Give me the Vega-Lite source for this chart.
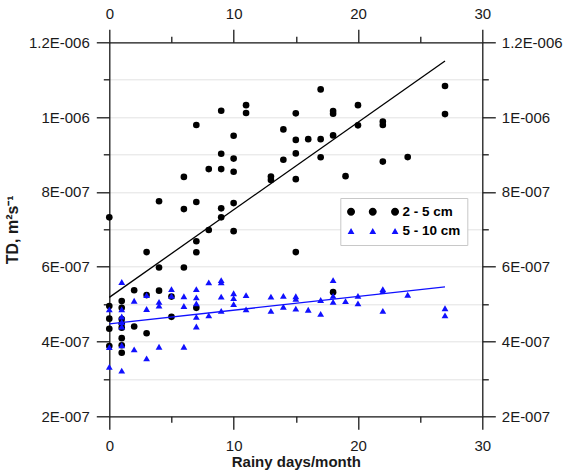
{
  "$schema": "https://vega.github.io/schema/vega-lite/v6.json",
  "width": 373,
  "height": 374,
  "autosize": {"type": "none"},
  "padding": {"left": 109.3, "top": 42.3, "right": 84, "bottom": 55},
  "background": "white",
  "config": {
    "font": "Liberation Sans",
    "view": {"stroke": null},
    "axis": {
      "domainColor": "#1a1a1a", "domainWidth": 1.3,
      "tickColor": "#1a1a1a", "tickWidth": 1.3,
      "labelFont": "Liberation Sans", "labelFontSize": 15, "labelColor": "#1a1a1a",
      "titleFont": "Liberation Sans", "titleFontSize": 15, "titleFontWeight": "bold", "titleColor": "#1a1a1a",
      "grid": false, "labelFlush": false, "labelOverlap": false
    }
  },
  "datasets": {
    "pts": [
      {"x":0,"y":7.32e-7,"series":"2 - 5 cm"},{"x":4,"y":7.75e-7,"series":"2 - 5 cm"},{"x":6,"y":8.40e-7,"series":"2 - 5 cm"},{"x":7,"y":9.79e-7,"series":"2 - 5 cm"},
      {"x":9,"y":1.017e-6,"series":"2 - 5 cm"},{"x":11,"y":1.032e-6,"series":"2 - 5 cm"},{"x":11,"y":1.011e-6,"series":"2 - 5 cm"},{"x":10,"y":9.50e-7,"series":"2 - 5 cm"},
      {"x":9,"y":9.02e-7,"series":"2 - 5 cm"},{"x":10,"y":8.89e-7,"series":"2 - 5 cm"},{"x":8,"y":8.61e-7,"series":"2 - 5 cm"},{"x":9,"y":8.61e-7,"series":"2 - 5 cm"},
      {"x":10,"y":8.54e-7,"series":"2 - 5 cm"},{"x":7,"y":7.73e-7,"series":"2 - 5 cm"},{"x":6,"y":7.54e-7,"series":"2 - 5 cm"},{"x":9,"y":7.56e-7,"series":"2 - 5 cm"},
      {"x":10,"y":7.70e-7,"series":"2 - 5 cm"},{"x":9,"y":7.32e-7,"series":"2 - 5 cm"},{"x":8,"y":6.98e-7,"series":"2 - 5 cm"},{"x":10,"y":6.95e-7,"series":"2 - 5 cm"},
      {"x":13,"y":8.41e-7,"series":"2 - 5 cm"},{"x":13,"y":8.32e-7,"series":"2 - 5 cm"},{"x":14,"y":9.67e-7,"series":"2 - 5 cm"},{"x":14,"y":8.86e-7,"series":"2 - 5 cm"},
      {"x":15,"y":1.010e-6,"series":"2 - 5 cm"},{"x":15,"y":9.39e-7,"series":"2 - 5 cm"},{"x":15,"y":9.03e-7,"series":"2 - 5 cm"},{"x":15,"y":8.34e-7,"series":"2 - 5 cm"},
      {"x":16,"y":9.41e-7,"series":"2 - 5 cm"},{"x":17,"y":1.074e-6,"series":"2 - 5 cm"},{"x":17,"y":9.41e-7,"series":"2 - 5 cm"},{"x":17,"y":8.925e-7,"series":"2 - 5 cm"},
      {"x":18,"y":1.016e-6,"series":"2 - 5 cm"},{"x":18,"y":1.009e-6,"series":"2 - 5 cm"},{"x":18,"y":9.51e-7,"series":"2 - 5 cm"},{"x":19,"y":8.42e-7,"series":"2 - 5 cm"},
      {"x":20,"y":1.032e-6,"series":"2 - 5 cm"},{"x":20,"y":9.78e-7,"series":"2 - 5 cm"},{"x":22,"y":9.88e-7,"series":"2 - 5 cm"},{"x":22,"y":9.79e-7,"series":"2 - 5 cm"},
      {"x":22,"y":8.81e-7,"series":"2 - 5 cm"},{"x":24,"y":8.93e-7,"series":"2 - 5 cm"},{"x":27,"y":1.083e-6,"series":"2 - 5 cm"},{"x":27,"y":1.008e-6,"series":"2 - 5 cm"},
      {"x":15,"y":6.39e-7,"series":"2 - 5 cm"},{"x":18,"y":5.32e-7,"series":"2 - 5 cm"},{"x":0,"y":4.95e-7,"series":"2 - 5 cm"},{"x":0,"y":4.61e-7,"series":"2 - 5 cm"},
      {"x":0,"y":4.34e-7,"series":"2 - 5 cm"},{"x":0,"y":3.88e-7,"series":"2 - 5 cm"},{"x":1,"y":5.08e-7,"series":"2 - 5 cm"},{"x":1,"y":4.90e-7,"series":"2 - 5 cm"},
      {"x":1,"y":4.60e-7,"series":"2 - 5 cm"},{"x":1,"y":4.48e-7,"series":"2 - 5 cm"},{"x":1,"y":4.37e-7,"series":"2 - 5 cm"},{"x":1,"y":4.09e-7,"series":"2 - 5 cm"},
      {"x":1,"y":3.90e-7,"series":"2 - 5 cm"},{"x":1,"y":3.70e-7,"series":"2 - 5 cm"},{"x":2,"y":5.37e-7,"series":"2 - 5 cm"},{"x":2,"y":4.40e-7,"series":"2 - 5 cm"},
      {"x":3,"y":6.39e-7,"series":"2 - 5 cm"},{"x":3,"y":5.24e-7,"series":"2 - 5 cm"},{"x":3,"y":4.22e-7,"series":"2 - 5 cm"},{"x":4,"y":5.98e-7,"series":"2 - 5 cm"},
      {"x":4,"y":5.36e-7,"series":"2 - 5 cm"},{"x":5,"y":5.20e-7,"series":"2 - 5 cm"},{"x":5,"y":4.66e-7,"series":"2 - 5 cm"},{"x":6,"y":5.98e-7,"series":"2 - 5 cm"},
      {"x":7,"y":6.68e-7,"series":"2 - 5 cm"},{"x":7,"y":6.385e-7,"series":"2 - 5 cm"},{"x":7,"y":4.90e-7,"series":"2 - 5 cm"},
      {"x":0,"y":4.86e-7,"series":"5 - 10 cm"},{"x":0,"y":3.85e-7,"series":"5 - 10 cm"},{"x":0,"y":3.32e-7,"series":"5 - 10 cm"},
      {"x":1,"y":5.59e-7,"series":"5 - 10 cm"},{"x":1,"y":4.86e-7,"series":"5 - 10 cm"},{"x":1,"y":4.67e-7,"series":"5 - 10 cm"},{"x":1,"y":4.52e-7,"series":"5 - 10 cm"},
      {"x":1,"y":4.40e-7,"series":"5 - 10 cm"},{"x":1,"y":3.90e-7,"series":"5 - 10 cm"},{"x":1,"y":3.22e-7,"series":"5 - 10 cm"},
      {"x":2,"y":5.09e-7,"series":"5 - 10 cm"},{"x":2,"y":3.79e-7,"series":"5 - 10 cm"},
      {"x":3,"y":5.24e-7,"series":"5 - 10 cm"},{"x":3,"y":4.87e-7,"series":"5 - 10 cm"},{"x":3,"y":3.55e-7,"series":"5 - 10 cm"},
      {"x":4,"y":5.06e-7,"series":"5 - 10 cm"},{"x":4,"y":4.96e-7,"series":"5 - 10 cm"},{"x":4,"y":3.86e-7,"series":"5 - 10 cm"},
      {"x":5,"y":5.40e-7,"series":"5 - 10 cm"},{"x":5,"y":5.22e-7,"series":"5 - 10 cm"},
      {"x":6,"y":5.21e-7,"series":"5 - 10 cm"},{"x":6,"y":4.95e-7,"series":"5 - 10 cm"},{"x":6,"y":3.86e-7,"series":"5 - 10 cm"},
      {"x":7,"y":5.40e-7,"series":"5 - 10 cm"},{"x":7,"y":5.18e-7,"series":"5 - 10 cm"},{"x":7,"y":5.02e-7,"series":"5 - 10 cm"},{"x":7,"y":4.66e-7,"series":"5 - 10 cm"},{"x":7,"y":4.40e-7,"series":"5 - 10 cm"},
      {"x":8,"y":5.58e-7,"series":"5 - 10 cm"},{"x":8,"y":4.70e-7,"series":"5 - 10 cm"},
      {"x":9,"y":5.64e-7,"series":"5 - 10 cm"},{"x":9,"y":5.58e-7,"series":"5 - 10 cm"},{"x":9,"y":5.20e-7,"series":"5 - 10 cm"},{"x":9,"y":4.82e-7,"series":"5 - 10 cm"},
      {"x":10,"y":5.29e-7,"series":"5 - 10 cm"},{"x":10,"y":5.16e-7,"series":"5 - 10 cm"},{"x":10,"y":5.00e-7,"series":"5 - 10 cm"},
      {"x":11,"y":5.24e-7,"series":"5 - 10 cm"},{"x":11,"y":4.86e-7,"series":"5 - 10 cm"},
      {"x":13,"y":5.20e-7,"series":"5 - 10 cm"},{"x":13,"y":4.82e-7,"series":"5 - 10 cm"},
      {"x":14,"y":5.22e-7,"series":"5 - 10 cm"},{"x":14,"y":4.93e-7,"series":"5 - 10 cm"},
      {"x":15,"y":5.21e-7,"series":"5 - 10 cm"},{"x":15,"y":5.14e-7,"series":"5 - 10 cm"},{"x":15,"y":4.88e-7,"series":"5 - 10 cm"},
      {"x":16,"y":4.85e-7,"series":"5 - 10 cm"},
      {"x":17,"y":5.11e-7,"series":"5 - 10 cm"},{"x":17,"y":4.74e-7,"series":"5 - 10 cm"},
      {"x":18,"y":5.64e-7,"series":"5 - 10 cm"},{"x":18,"y":5.22e-7,"series":"5 - 10 cm"},{"x":18,"y":5.06e-7,"series":"5 - 10 cm"},
      {"x":19,"y":5.08e-7,"series":"5 - 10 cm"},
      {"x":20,"y":5.22e-7,"series":"5 - 10 cm"},{"x":20,"y":5.02e-7,"series":"5 - 10 cm"},
      {"x":22,"y":5.40e-7,"series":"5 - 10 cm"},{"x":22,"y":5.35e-7,"series":"5 - 10 cm"},{"x":22,"y":4.82e-7,"series":"5 - 10 cm"},
      {"x":24,"y":5.25e-7,"series":"5 - 10 cm"},
      {"x":27,"y":4.89e-7,"series":"5 - 10 cm"},{"x":27,"y":4.70e-7,"series":"5 - 10 cm"}
    ],
    "fit": [
      {"x":0,"y":5.18e-7,"series":"2 - 5 cm"},{"x":27,"y":1.150e-6,"series":"2 - 5 cm"},
      {"x":0,"y":4.47e-7,"series":"5 - 10 cm"},{"x":27,"y":5.46e-7,"series":"5 - 10 cm"}
    ]
  },
  "resolve": {"axis": {"x": "independent", "y": "independent"}},
  "layer": [
    {
      "data": {"name": "pts"},
      "transform": [{"filter": "datum.series === '2 - 5 cm'"}],
      "mark": {"type": "point", "filled": true, "opacity": 1, "size": 44, "strokeWidth": 0, "shape": "circle"},
      "encoding": {
        "x": {"field": "x", "type": "quantitative",
          "scale": {"domain": [0, 30], "nice": false, "zero": false},
          "axis": {"orient": "bottom", "values": [0,5,10,15,20,25,30],
            "labelExpr": "datum.value % 10 == 0 ? datum.label : ''",
            "tickSize": {"condition": {"test": "datum.value % 10 == 0", "value": 13}, "value": 6},
            "labelPadding": 9, "title": "Rainy days/month", "titlePadding": 1}},
        "y": {"field": "y", "type": "quantitative",
          "scale": {"domain": [2e-7, 1.2e-6], "nice": false, "zero": false},
          "axis": {"orient": "left", "values": [2e-7,3e-7,4e-7,5e-7,6e-7,7e-7,8e-7,9e-7,1e-6,1.1e-6,1.2e-6],
            "labelExpr": "round(datum.value*1e7)==12 ? '1.2E-006' : round(datum.value*1e7)==10 ? '1E-006' : round(datum.value*1e7)%2==0 ? round(datum.value*1e7)+'E-007' : ''",
            "tickSize": {"condition": {"test": "round(datum.value*1e7) % 2 == 0", "value": 13}, "value": 6},
            "labelPadding": 7, "grid": true, "gridColor": "#e2e2e2", "gridWidth": 1,
            "title": "TD, m²s⁻¹", "titlePadding": 8, "titleFontSize": 16}},
        "color": {"field": "series", "type": "nominal",
          "scale": {"domain": ["2 - 5 cm", "5 - 10 cm"], "range": ["black", "#1010ff"]},
          "legend": {"title": null, "orient": "none", "legendX": 231, "legendY": 155.7,
            "padding": 7, "strokeColor": "#c8c8c8", "fillColor": "white",
            "labelFont": "Liberation Sans", "labelFontSize": 13.5, "labelFontWeight": "bold", "labelColor": "black",
            "symbolSize": 64, "labelOffset": 41.7, "rowPadding": 4.5, "symbolStrokeWidth": 0, "symbolOpacity": 1}}
      }
    },
    {
      "data": {"name": "pts"},
      "transform": [{"filter": "datum.series === '5 - 10 cm'"}],
      "mark": {"type": "point", "filled": true, "opacity": 1, "size": 46, "strokeWidth": 0, "shape": "triangle-up"},
      "encoding": {
        "x": {"field": "x", "type": "quantitative", "axis": null},
        "y": {"field": "y", "type": "quantitative", "axis": null},
        "color": {"field": "series", "type": "nominal"}
      }
    },
    {
      "data": {"name": "fit"},
      "transform": [{"filter": "false"}],
      "mark": {"type": "point", "filled": true, "opacity": 1, "strokeWidth": 0},
      "encoding": {
        "x": {"field": "x", "type": "quantitative", "axis": null},
        "y": {"field": "y", "type": "quantitative", "axis": null},
        "color": {"field": "series", "type": "nominal"},
        "shape": {"field": "series", "type": "nominal",
          "scale": {"domain": ["2 - 5 cm", "5 - 10 cm"], "range": ["M-1.75,0A1,1,0,1,0,0.25,0A1,1,0,1,0,-1.75,0ZM3.675,0A1,1,0,1,0,5.675,0A1,1,0,1,0,3.675,0ZM9.25,0A1,1,0,1,0,11.25,0A1,1,0,1,0,9.25,0Z", "M-0.75,-0.8L0.1,0.7L-1.6,0.7ZM4.675,-0.8L5.525,0.7L3.825,0.7ZM10.25,-0.8L11.1,0.7L9.4,0.7Z"]}}
      }
    },
    {
      "data": {"name": "fit"},
      "mark": {"type": "line", "strokeWidth": 1.3},
      "encoding": {
        "x": {"field": "x", "type": "quantitative",
          "axis": {"orient": "top", "values": [0,5,10,15,20,25,30],
            "labelExpr": "datum.value % 10 == 0 ? datum.label : ''",
            "tickSize": {"condition": {"test": "datum.value % 10 == 0", "value": 13}, "value": 6},
            "labelPadding": 8, "title": null}},
        "y": {"field": "y", "type": "quantitative",
          "axis": {"orient": "right", "values": [2e-7,3e-7,4e-7,5e-7,6e-7,7e-7,8e-7,9e-7,1e-6,1.1e-6,1.2e-6],
            "labelExpr": "round(datum.value*1e7)==12 ? '1.2E-006' : round(datum.value*1e7)==10 ? '1E-006' : round(datum.value*1e7)%2==0 ? round(datum.value*1e7)+'E-007' : ''",
            "tickSize": {"condition": {"test": "round(datum.value*1e7) % 2 == 0", "value": 13}, "value": 6},
            "labelPadding": 6, "title": null}},
        "color": {"field": "series", "type": "nominal", "legend": null},
        "detail": {"field": "series"}
      }
    }
  ]
}
